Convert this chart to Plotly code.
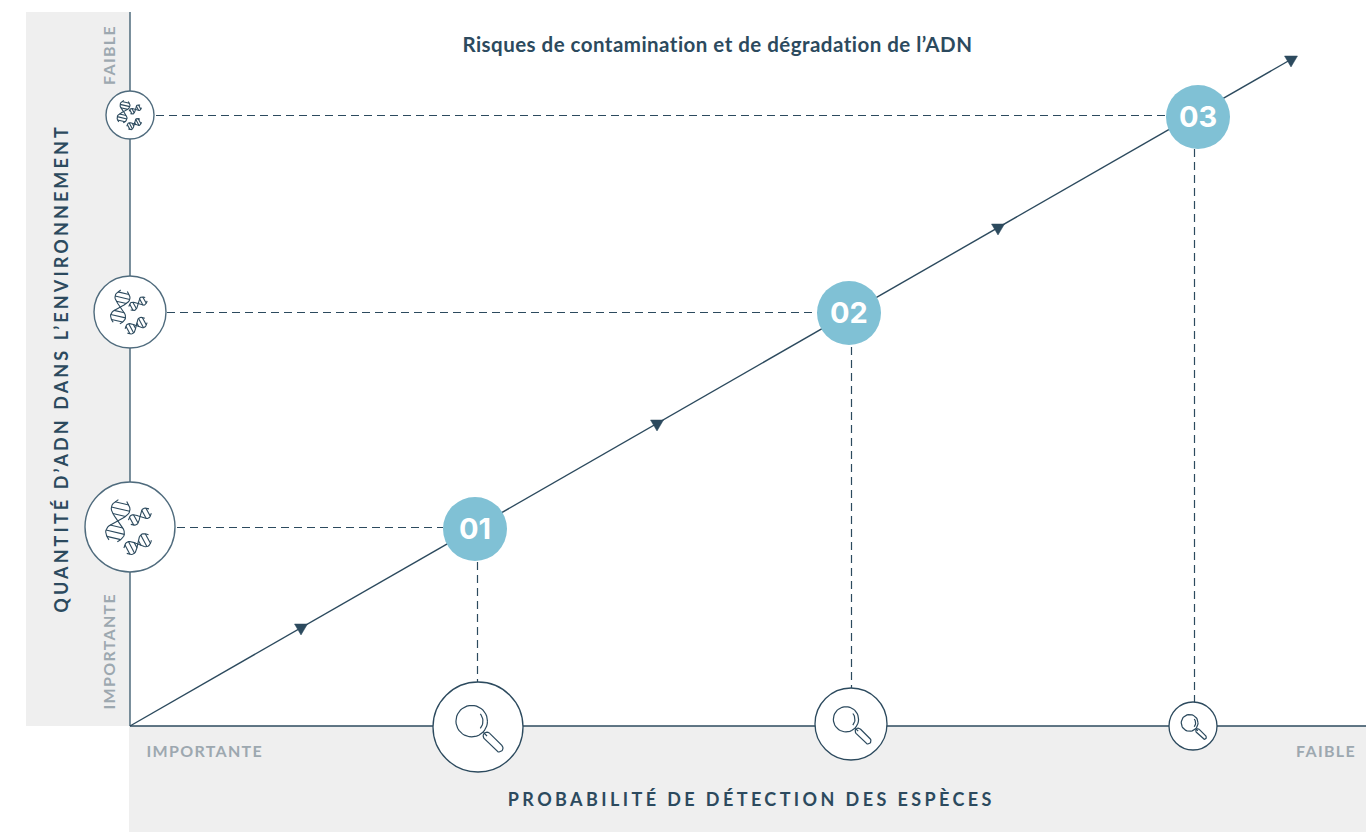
import math
import plotly.graph_objects as go

# --- data (units: chart scale, origin at the crossing of both axes) ---
steps = ["01", "02", "03"]
detection = [345, 719, 1068]
quantity = [197, 413, 609]
dna_sizes = [45, 36, 24]
loupe_sizes = [45, 36, 24]
dna_icon_quantity = [199, 414, 611]
loupe_icon_detection = [348, 721, 1063]
loupe_icon_quantity = [-1, 2, 0]
h_dash_start = [47, 37, 26]
h_dash_end = [313, 688, 1036]
h_dash_y = [198.5, 413.5, 610.5]
v_dash_x = [347.5, 721.5, 1064.5]
v_dash_start = [164, 379, 577]
v_dash_end = [44, 38, 24]
trend_x = [0, 1160]
trend_y = [0, 666]
arrow_x = [171, 527, 868, 1161]
arrow_y = [97, 301, 497, 665]

title_text = "Risques de contamination et de dégradation de l’ADN"
y_title = "QUANTITÉ D’ADN DANS L’ENVIRONNEMENT"
x_title = "PROBABILITÉ DE DÉTECTION DES ESPÈCES"
low_label = "IMPORTANTE"
high_label = "FAIBLE"

DARK = "#2c4a5e"
EDGE = "#4f6b7d"
TEAL = "#80c1d5"
PANEL = "#efefef"
GREY = "#9da8b0"
FONT = "Lato"

fig = go.Figure()


def helix(cx, cy, angle, length, amp, rungs):
    xs, ys = [], []
    ca, sa = math.cos(angle), math.sin(angle)
    def pt(t, off):
        a = (t - 0.5) * length
        return cx + a * ca - off * sa, cy + a * sa + off * ca
    def wave(t):
        return amp * math.sin(2 * math.pi * (t - 0.5) * 0.85)
    for sign in (1, -1):
        for i in range(25):
            t = i / 24
            p = pt(t, sign * wave(t))
            xs.append(p[0]); ys.append(p[1])
        xs.append(None); ys.append(None)
    for j in range(rungs):
        t = (j + 0.5) / rungs
        o = wave(t)
        p, q = pt(t, o), pt(t, -o)
        xs += [p[0], q[0], None]; ys += [p[1], q[1], None]
    return xs, ys


def dna_icon(cx, cy, r):
    xs, ys = [], []
    for (ox, oy, ang, ln, amp, n) in [
        (-0.27, 0.14, -1.8, 0.92, 0.21, 7),
        (0.22, 0.23, 0.5, 0.52, 0.12, 5),
        (0.17, -0.38, 0.49, 0.62, 0.15, 6),
    ]:
        a, b = helix(cx + ox * r, cy + oy * r, ang, ln * r, amp * r, n)
        xs += a; ys += b
    return xs, ys


def loupe_icon(cx, cy, r):
    xs, ys = [], []
    lx, ly = cx - 0.14 * r, cy + 0.13 * r
    for i in range(41):
        a = 2 * math.pi * i / 40
        xs.append(lx + 0.35 * r * math.cos(a)); ys.append(ly + 0.35 * r * math.sin(a))
    xs.append(None); ys.append(None)
    for i in range(13):
        a = math.radians(-40 + 80 * i / 12)
        xs.append(lx + 0.25 * r * math.cos(a)); ys.append(ly + 0.25 * r * math.sin(a))
    xs.append(None); ys.append(None)
    xs += [cx + 0.12 * r, cx + 0.2 * r, None]
    ys += [cy - 0.12 * r, cy - 0.2 * r, None]
    sx, sy = cx + 0.2 * r, cy - 0.2 * r
    ex, ey = cx + 0.47 * r, cy - 0.47 * r
    w = 0.085 * r
    first = None
    for i in range(13):
        a = math.radians(45 + 180 * i / 12)
        px, py = sx + w * math.cos(a), sy + w * math.sin(a)
        first = first or (px, py)
        xs.append(px); ys.append(py)
    for i in range(13):
        a = math.radians(225 + 180 * i / 12)
        xs.append(ex + w * math.cos(a)); ys.append(ey + w * math.sin(a))
    xs.append(first[0]); ys.append(first[1])
    xs.append(None); ys.append(None)
    return xs, ys


def add_line(x, y, color=DARK, width=1.2, dash=None):
    fig.add_trace(go.Scatter(x=x, y=y, mode="lines", hoverinfo="skip", showlegend=False,
                             line=dict(color=color, width=width, dash=dash)))


# grey panels and the two axes
fig.add_shape(type="rect", x0=-104, x1=0, y0=0, y1=714, fillcolor=PANEL, line_width=0, layer="below")
fig.add_shape(type="rect", x0=-1, x1=1236, y0=-106, y1=0, fillcolor=PANEL, line_width=0, layer="below")
fig.add_shape(type="line", x0=0, x1=0, y0=0, y1=714, line=dict(color=EDGE, width=1.5), layer="below")
fig.add_shape(type="line", x0=0, x1=1236, y0=0, y1=0, line=dict(color=DARK, width=1.3), layer="below")

# guides
for a, b, y in zip(h_dash_start, h_dash_end, h_dash_y):
    add_line([a, b], [y, y], width=1.2, dash="8px,5px")
for x, a, b in zip(v_dash_x, v_dash_start, v_dash_end):
    add_line([x, x], [a, b], width=1.2, dash="8px,5px")

# trend line and arrow heads
add_line(trend_x, trend_y, width=1.4)
tri_x, tri_y = [], []
for ax, ay in zip(arrow_x, arrow_y):
    tri_x += [ax - 6.5, ax + 6.5, ax, ax - 6.5, None]
    tri_y += [ay + 5, ay + 5, ay - 6, ay + 5, None]
fig.add_trace(go.Scatter(x=tri_x, y=tri_y, mode="lines", fill="toself", fillcolor=DARK, hoverinfo="skip",
                         showlegend=False, line=dict(color=DARK, width=0.5)))

# icon circles
fig.add_trace(go.Scatter(x=[0, 0, 0], y=dna_icon_quantity, mode="markers", hoverinfo="skip", showlegend=False,
                         marker=dict(size=[2 * s for s in dna_sizes], color="white", opacity=1,
                                     line=dict(color=EDGE, width=1.4))))
fig.add_trace(go.Scatter(x=loupe_icon_detection, y=loupe_icon_quantity, mode="markers", hoverinfo="skip", showlegend=False,
                         marker=dict(size=[2 * s for s in loupe_sizes], color="white", opacity=1,
                                     line=dict(color=DARK, width=1.3))))
for q, r in zip(dna_icon_quantity, dna_sizes):
    xs, ys = dna_icon(0, q, r)
    add_line(xs, ys, color=DARK, width=1.1)
for d, q, r in zip(loupe_icon_detection, loupe_icon_quantity, loupe_sizes):
    xs, ys = loupe_icon(d, q, r)
    add_line(xs, ys, color=DARK, width=1.2)

# numbered steps
fig.add_trace(go.Scatter(x=detection, y=quantity, mode="markers", hoverinfo="skip", showlegend=False,
                         marker=dict(size=64, color=TEAL, opacity=1, line_width=0)))
for s, d, q in zip(steps, detection, quantity):
    fig.add_annotation(x=d - 0.5, y=q + 1, text=s, showarrow=False, xanchor="center", yanchor="middle",
                       font=dict(family="Inter", size=29, color="white", weight=700))


def label(x, y, text, size, color, weight=400, rot=0):
    fig.add_annotation(x=x, y=y, text=text, showarrow=False, textangle=rot, xanchor="center", yanchor="middle",
                       font=dict(family=FONT, size=size, color=color, weight=weight))


label(587.5, 682, title_text, 20.5, DARK, 700)
label(-70, 357.5, y_title, 18, DARK, 700, rot=-90)
label(621, -73, x_title, 18, DARK, 700)
label(74.5, -24, low_label, 16, GREY, 700)
label(1196, -24, high_label, 16, GREY, 700)
label(-22, 671, high_label, 16, GREY, 700, rot=-90)
label(-22, 74, low_label, 16, GREY, 700, rot=-90)

fig.update_layout(
    width=1366, height=832, margin=dict(l=0, r=0, t=0, b=0),
    paper_bgcolor="white", plot_bgcolor="white", showlegend=False,
    xaxis=dict(range=[-130, 1236], visible=False, fixedrange=True),
    yaxis=dict(range=[-106, 726], visible=False, fixedrange=True),
)

post = """
document.body.style.margin = '0';
document.querySelectorAll('.annotation-text').forEach(function (t) {
  var s = t.textContent;
  if (s.indexOf('Risques') === 0) t.style.letterSpacing = '0.47px';
  else if (s.indexOf('QUANTIT') === 0) t.style.letterSpacing = '3.1px';
  else if (s.indexOf('PROBABIL') === 0) t.style.letterSpacing = '3.4px';
  else if (s.length > 2) t.style.letterSpacing = '1.3px';
});
"""
fig.write_html("out.html", post_script=post, config={"displayModeBar": False})
